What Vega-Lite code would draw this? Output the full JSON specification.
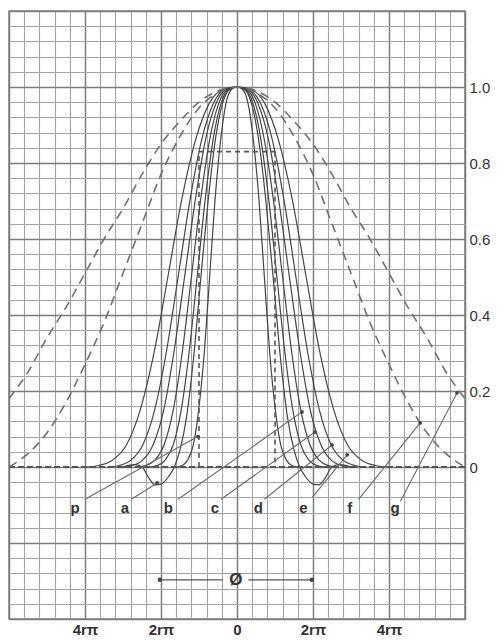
{
  "$schema": "https://vega.github.io/schema/vega-lite/v6.json",
  "width": 456,
  "height": 608,
  "autosize": "none",
  "padding": {"left": 9, "top": 11, "right": 39, "bottom": 22},
  "background": "white",
  "config": {"view": {"stroke": "#808080", "strokeWidth": 1.5}},
  "resolve": {"axis": {"x": "independent", "y": "independent"}},
  "datasets": {
    "solid": [
      {"k":"c1","x":-1.58,"y":0},{"k":"c1","x":-1.44,"y":0.004},{"k":"c1","x":-1.3,"y":0.018},{"k":"c1","x":-1.15,"y":0.058},{"k":"c1","x":-1.01,"y":0.149},{"k":"c1","x":-0.86,"y":0.302},{"k":"c1","x":-0.72,"y":0.5},{"k":"c1","x":-0.58,"y":0.701},{"k":"c1","x":-0.43,"y":0.861},{"k":"c1","x":-0.29,"y":0.957},{"k":"c1","x":-0.14,"y":0.994},{"k":"c1","x":0,"y":1},
      {"k":"c1","x":0.14,"y":0.994},{"k":"c1","x":0.29,"y":0.957},{"k":"c1","x":0.43,"y":0.861},{"k":"c1","x":0.58,"y":0.701},{"k":"c1","x":0.72,"y":0.5},{"k":"c1","x":0.86,"y":0.302},{"k":"c1","x":1.01,"y":0.149},{"k":"c1","x":1.15,"y":0.058},{"k":"c1","x":1.3,"y":0.018},{"k":"c1","x":1.44,"y":0.004},{"k":"c1","x":1.58,"y":0},
      {"k":"c2","x":-3.0,"y":0},{"k":"c2","x":-2.7,"y":0.006},{"k":"c2","x":-2.5,"y":0},{"k":"c2","x":-2.3,"y":-0.032},{"k":"c2","x":-2.15,"y":-0.047},{"k":"c2","x":-2.0,"y":-0.045},{"k":"c2","x":-1.8,"y":-0.025},{"k":"c2","x":-1.65,"y":0},{"k":"c2","x":-1.5,"y":0.045},{"k":"c2","x":-1.33,"y":0.13},{"k":"c2","x":-1.14,"y":0.29},{"k":"c2","x":-0.95,"y":0.5},{"k":"c2","x":-0.76,"y":0.7},{"k":"c2","x":-0.57,"y":0.861},{"k":"c2","x":-0.38,"y":0.957},{"k":"c2","x":-0.19,"y":0.994},{"k":"c2","x":0,"y":1},
      {"k":"c2","x":0.19,"y":0.994},{"k":"c2","x":0.38,"y":0.957},{"k":"c2","x":0.57,"y":0.861},{"k":"c2","x":0.76,"y":0.7},{"k":"c2","x":0.95,"y":0.5},{"k":"c2","x":1.14,"y":0.29},{"k":"c2","x":1.33,"y":0.13},{"k":"c2","x":1.5,"y":0.045},{"k":"c2","x":1.65,"y":0},{"k":"c2","x":1.8,"y":-0.025},{"k":"c2","x":2.0,"y":-0.045},{"k":"c2","x":2.15,"y":-0.047},{"k":"c2","x":2.3,"y":-0.032},{"k":"c2","x":2.5,"y":0},{"k":"c2","x":2.7,"y":0.006},{"k":"c2","x":3.0,"y":0},
      {"k":"c3","x":-2.31,"y":0},{"k":"c3","x":-2.1,"y":0.004},{"k":"c3","x":-1.89,"y":0.018},{"k":"c3","x":-1.68,"y":0.058},{"k":"c3","x":-1.47,"y":0.149},{"k":"c3","x":-1.26,"y":0.302},{"k":"c3","x":-1.05,"y":0.5},{"k":"c3","x":-0.84,"y":0.701},{"k":"c3","x":-0.63,"y":0.861},{"k":"c3","x":-0.42,"y":0.957},{"k":"c3","x":-0.21,"y":0.994},{"k":"c3","x":0,"y":1},
      {"k":"c3","x":0.21,"y":0.994},{"k":"c3","x":0.42,"y":0.957},{"k":"c3","x":0.63,"y":0.861},{"k":"c3","x":0.84,"y":0.701},{"k":"c3","x":1.05,"y":0.5},{"k":"c3","x":1.26,"y":0.302},{"k":"c3","x":1.47,"y":0.149},{"k":"c3","x":1.68,"y":0.058},{"k":"c3","x":1.89,"y":0.018},{"k":"c3","x":2.1,"y":0.004},{"k":"c3","x":2.31,"y":0},
      {"k":"c4","x":-2.64,"y":0},{"k":"c4","x":-2.4,"y":0.004},{"k":"c4","x":-2.16,"y":0.018},{"k":"c4","x":-1.92,"y":0.058},{"k":"c4","x":-1.68,"y":0.149},{"k":"c4","x":-1.44,"y":0.302},{"k":"c4","x":-1.2,"y":0.5},{"k":"c4","x":-0.96,"y":0.701},{"k":"c4","x":-0.72,"y":0.861},{"k":"c4","x":-0.48,"y":0.957},{"k":"c4","x":-0.24,"y":0.994},{"k":"c4","x":0,"y":1},
      {"k":"c4","x":0.24,"y":0.994},{"k":"c4","x":0.48,"y":0.957},{"k":"c4","x":0.72,"y":0.861},{"k":"c4","x":0.96,"y":0.701},{"k":"c4","x":1.2,"y":0.5},{"k":"c4","x":1.44,"y":0.302},{"k":"c4","x":1.68,"y":0.149},{"k":"c4","x":1.92,"y":0.058},{"k":"c4","x":2.16,"y":0.018},{"k":"c4","x":2.4,"y":0.004},{"k":"c4","x":2.64,"y":0},
      {"k":"c5","x":-3.04,"y":0},{"k":"c5","x":-2.76,"y":0.004},{"k":"c5","x":-2.48,"y":0.018},{"k":"c5","x":-2.21,"y":0.058},{"k":"c5","x":-1.93,"y":0.149},{"k":"c5","x":-1.66,"y":0.302},{"k":"c5","x":-1.38,"y":0.5},{"k":"c5","x":-1.1,"y":0.701},{"k":"c5","x":-0.83,"y":0.861},{"k":"c5","x":-0.55,"y":0.957},{"k":"c5","x":-0.28,"y":0.994},{"k":"c5","x":0,"y":1},
      {"k":"c5","x":0.28,"y":0.994},{"k":"c5","x":0.55,"y":0.957},{"k":"c5","x":0.83,"y":0.861},{"k":"c5","x":1.1,"y":0.701},{"k":"c5","x":1.38,"y":0.5},{"k":"c5","x":1.66,"y":0.302},{"k":"c5","x":1.93,"y":0.149},{"k":"c5","x":2.21,"y":0.058},{"k":"c5","x":2.48,"y":0.018},{"k":"c5","x":2.76,"y":0.004},{"k":"c5","x":3.04,"y":0},
      {"k":"c6","x":-3.41,"y":0},{"k":"c6","x":-3.1,"y":0.004},{"k":"c6","x":-2.79,"y":0.018},{"k":"c6","x":-2.48,"y":0.058},{"k":"c6","x":-2.17,"y":0.149},{"k":"c6","x":-1.86,"y":0.302},{"k":"c6","x":-1.55,"y":0.5},{"k":"c6","x":-1.24,"y":0.701},{"k":"c6","x":-0.93,"y":0.861},{"k":"c6","x":-0.62,"y":0.957},{"k":"c6","x":-0.31,"y":0.994},{"k":"c6","x":0,"y":1},
      {"k":"c6","x":0.31,"y":0.994},{"k":"c6","x":0.62,"y":0.957},{"k":"c6","x":0.93,"y":0.861},{"k":"c6","x":1.24,"y":0.701},{"k":"c6","x":1.55,"y":0.5},{"k":"c6","x":1.86,"y":0.302},{"k":"c6","x":2.17,"y":0.149},{"k":"c6","x":2.48,"y":0.058},{"k":"c6","x":2.79,"y":0.018},{"k":"c6","x":3.1,"y":0.004},{"k":"c6","x":3.41,"y":0},
      {"k":"c7","x":-4.0,"y":0},{"k":"c7","x":-3.64,"y":0.004},{"k":"c7","x":-3.28,"y":0.018},{"k":"c7","x":-2.91,"y":0.058},{"k":"c7","x":-2.55,"y":0.149},{"k":"c7","x":-2.18,"y":0.302},{"k":"c7","x":-1.82,"y":0.5},{"k":"c7","x":-1.46,"y":0.701},{"k":"c7","x":-1.09,"y":0.861},{"k":"c7","x":-0.73,"y":0.957},{"k":"c7","x":-0.36,"y":0.994},{"k":"c7","x":0,"y":1},
      {"k":"c7","x":0.36,"y":0.994},{"k":"c7","x":0.73,"y":0.957},{"k":"c7","x":1.09,"y":0.861},{"k":"c7","x":1.46,"y":0.701},{"k":"c7","x":1.82,"y":0.5},{"k":"c7","x":2.18,"y":0.302},{"k":"c7","x":2.55,"y":0.149},{"k":"c7","x":2.91,"y":0.058},{"k":"c7","x":3.28,"y":0.018},{"k":"c7","x":3.64,"y":0.004},{"k":"c7","x":4.0,"y":0}
    ],
    "dashed": [
      {"k":"f","x":-6,"y":0},{"k":"f","x":-5.5,"y":0.035},{"k":"f","x":-5,"y":0.09},{"k":"f","x":-4.5,"y":0.17},{"k":"f","x":-4,"y":0.27},{"k":"f","x":-3.5,"y":0.38},{"k":"f","x":-3,"y":0.51},{"k":"f","x":-2.5,"y":0.64},{"k":"f","x":-2,"y":0.77},{"k":"f","x":-1.5,"y":0.87},{"k":"f","x":-1,"y":0.945},{"k":"f","x":-0.5,"y":0.985},{"k":"f","x":0,"y":1},
      {"k":"f","x":0.5,"y":0.985},{"k":"f","x":1,"y":0.945},{"k":"f","x":1.5,"y":0.87},{"k":"f","x":2,"y":0.77},{"k":"f","x":2.5,"y":0.64},{"k":"f","x":3,"y":0.51},{"k":"f","x":3.5,"y":0.38},{"k":"f","x":4,"y":0.27},{"k":"f","x":4.5,"y":0.17},{"k":"f","x":5,"y":0.09},{"k":"f","x":5.5,"y":0.035},{"k":"f","x":6,"y":0},
      {"k":"g","x":-6,"y":0.18},{"k":"g","x":-5.5,"y":0.25},{"k":"g","x":-5,"y":0.34},{"k":"g","x":-4.5,"y":0.42},{"k":"g","x":-4,"y":0.51},{"k":"g","x":-3.5,"y":0.6},{"k":"g","x":-3,"y":0.68},{"k":"g","x":-2.5,"y":0.77},{"k":"g","x":-2,"y":0.85},{"k":"g","x":-1.5,"y":0.91},{"k":"g","x":-1,"y":0.96},{"k":"g","x":-0.5,"y":0.99},{"k":"g","x":0,"y":1},
      {"k":"g","x":0.5,"y":0.99},{"k":"g","x":1,"y":0.96},{"k":"g","x":1.5,"y":0.91},{"k":"g","x":2,"y":0.85},{"k":"g","x":2.5,"y":0.77},{"k":"g","x":3,"y":0.68},{"k":"g","x":3.5,"y":0.6},{"k":"g","x":4,"y":0.51},{"k":"g","x":4.5,"y":0.42},{"k":"g","x":5,"y":0.34},{"k":"g","x":5.5,"y":0.25},{"k":"g","x":6,"y":0.18}
    ],
    "pulse": [
      {"x":-1,"y":0,"x2":-1,"y2":0.83},
      {"x":-1,"y":0.83,"x2":1,"y2":0.83},
      {"x":1,"y":0.83,"x2":1,"y2":0}
    ],
    "leaders": [
      {"t":"p","x":-4.0,"y":-0.085,"x2":-1.03,"y2":0.08},
      {"t":"a","x":-2.78,"y":-0.085,"x2":-2.1,"y2":-0.042},
      {"t":"b","x":-1.55,"y":-0.085,"x2":1.71,"y2":0.145},
      {"t":"c","x":-0.42,"y":-0.085,"x2":2.05,"y2":0.092},
      {"t":"d","x":0.72,"y":-0.085,"x2":2.5,"y2":0.058},
      {"t":"e","x":1.98,"y":-0.08,"x2":2.9,"y2":0.032},
      {"t":"f","x":3.2,"y":-0.085,"x2":4.82,"y2":0.116},
      {"t":"g","x":4.3,"y":-0.09,"x2":5.79,"y2":0.195}
    ],
    "labels": [
      {"t":"p","x":-4.26,"y":-0.108},
      {"t":"a","x":-2.95,"y":-0.108},
      {"t":"b","x":-1.81,"y":-0.108},
      {"t":"c","x":-0.58,"y":-0.108},
      {"t":"d","x":0.56,"y":-0.108},
      {"t":"e","x":1.75,"y":-0.108},
      {"t":"f","x":2.97,"y":-0.108},
      {"t":"g","x":4.16,"y":-0.108}
    ],
    "phi": [
      {"x":-2.03,"y":-0.297,"x2":-0.37,"y2":-0.297},
      {"x":0.3,"y":-0.297,"x2":1.97,"y2":-0.297}
    ],
    "phiends": [
      {"x":-2.03,"y":-0.297},
      {"x":1.97,"y":-0.297}
    ],
    "philabel": [
      {"t":"Ø","x":-0.03,"y":-0.297}
    ],
    "zero": [
      {"y":0}
    ]
  },
  "layer": [
    {
      "data": {"name": "solid"},
      "mark": {"type": "line", "interpolate": "monotone", "stroke": "#454545", "strokeWidth": 1.2},
      "encoding": {
        "x": {
          "field": "x", "type": "quantitative",
          "scale": {"domain": [-6, 6], "nice": false, "zero": false},
          "axis": {
            "orient": "bottom", "title": null, "domain": false, "ticks": false,
            "values": [-6,-5.6,-5.2,-4.8,-4.4,-4,-3.6,-3.2,-2.8,-2.4,-2,-1.6,-1.2,-0.8,-0.4,0,0.4,0.8,1.2,1.6,2,2.4,2.8,3.2,3.6,4,4.4,4.8,5.2,5.6,6],
            "grid": true,
            "gridColor": {"condition": {"test": "abs(datum.value/2 - round(datum.value/2)) < 0.001", "value": "#7c7c7c"}, "value": "#a4a4a4"},
            "gridWidth": {"condition": {"test": "abs(datum.value/2 - round(datum.value/2)) < 0.001", "value": 1.5}, "value": 1.1},
            "labelExpr": "datum.value == 0 ? '0' : (abs(datum.value) == 4 ? '4rπ' : (abs(datum.value) == 2 ? '2rπ' : ''))",
            "labelOverlap": false, "labelFlush": false, "labelBound": false,
            "labelFont": "Liberation Sans", "labelFontSize": 15, "labelFontWeight": "bold",
            "labelColor": "#333", "labelPadding": 3
          }
        },
        "y": {
          "field": "y", "type": "quantitative",
          "scale": {"domain": [-0.4, 1.2], "nice": false, "zero": false},
          "axis": {
            "orient": "right", "title": null, "domain": false, "ticks": false,
            "values": [-0.4,-0.36,-0.32,-0.28,-0.24,-0.2,-0.16,-0.12,-0.08,-0.04,0,0.04,0.08,0.12,0.16,0.2,0.24,0.28,0.32,0.36,0.4,0.44,0.48,0.52,0.56,0.6,0.64,0.68,0.72,0.76,0.8,0.84,0.88,0.92,0.96,1,1.04,1.08,1.12,1.16,1.2],
            "grid": true,
            "gridColor": {"condition": {"test": "abs(datum.value*5 - round(datum.value*5)) < 0.001", "value": "#7c7c7c"}, "value": "#a4a4a4"},
            "gridWidth": {"condition": {"test": "abs(datum.value*5 - round(datum.value*5)) < 0.001", "value": 1.5}, "value": 1.1},
            "labelExpr": "indexof([0.2,0.4,0.6,0.8,1], datum.value) >= 0 ? format(datum.value, '.1f') : (datum.value == 0 ? '0' : '')",
            "labelOverlap": false, "labelFlush": false, "labelBound": false,
            "labelFont": "Liberation Sans", "labelFontSize": 15,
            "labelColor": "#333", "labelPadding": 4
          }
        },
        "detail": {"field": "k"}
      }
    },
    {
      "data": {"name": "zero"},
      "mark": {"type": "rule", "stroke": "#555", "strokeWidth": 2, "strokeDash": [6, 3]},
      "encoding": {"y": {"field": "y", "type": "quantitative", "axis": null}}
    },
    {
      "data": {"name": "dashed"},
      "mark": {"type": "line", "interpolate": "monotone", "stroke": "#707070", "strokeWidth": 1.6, "strokeDash": [9, 6]},
      "encoding": {
        "x": {"field": "x", "type": "quantitative", "axis": null},
        "y": {"field": "y", "type": "quantitative", "axis": null},
        "detail": {"field": "k"}
      }
    },
    {
      "data": {"name": "pulse"},
      "mark": {"type": "rule", "stroke": "#555", "strokeWidth": 1.6, "strokeDash": [5, 4]},
      "encoding": {
        "x": {"field": "x", "type": "quantitative", "axis": null},
        "y": {"field": "y", "type": "quantitative", "axis": null},
        "x2": {"field": "x2"},
        "y2": {"field": "y2"}
      }
    },
    {
      "data": {"name": "leaders"},
      "mark": {"type": "rule", "stroke": "#6a6a6a", "strokeWidth": 1.1},
      "encoding": {
        "x": {"field": "x", "type": "quantitative", "axis": null},
        "y": {"field": "y", "type": "quantitative", "axis": null},
        "x2": {"field": "x2"},
        "y2": {"field": "y2"}
      }
    },
    {
      "data": {"name": "leaders"},
      "mark": {"type": "point", "filled": true, "size": 14, "color": "#444", "opacity": 1},
      "encoding": {
        "x": {"field": "x2", "type": "quantitative", "axis": null},
        "y": {"field": "y2", "type": "quantitative", "axis": null}
      }
    },
    {
      "data": {"name": "labels"},
      "mark": {"type": "text", "font": "Liberation Sans", "fontSize": 15, "fontWeight": "bold", "color": "#333", "baseline": "middle", "align": "center"},
      "encoding": {
        "x": {"field": "x", "type": "quantitative", "axis": null},
        "y": {"field": "y", "type": "quantitative", "axis": null},
        "text": {"field": "t"}
      }
    },
    {
      "data": {"name": "phi"},
      "mark": {"type": "rule", "stroke": "#555", "strokeWidth": 1.2},
      "encoding": {
        "x": {"field": "x", "type": "quantitative", "axis": null},
        "y": {"field": "y", "type": "quantitative", "axis": null},
        "x2": {"field": "x2"},
        "y2": {"field": "y2"}
      }
    },
    {
      "data": {"name": "phiends"},
      "mark": {"type": "point", "filled": true, "size": 20, "color": "#444", "opacity": 1},
      "encoding": {
        "x": {"field": "x", "type": "quantitative", "axis": null},
        "y": {"field": "y", "type": "quantitative", "axis": null}
      }
    },
    {
      "data": {"name": "philabel"},
      "mark": {"type": "text", "font": "Liberation Sans", "fontSize": 17, "fontWeight": "bold", "color": "#333", "baseline": "middle", "align": "center"},
      "encoding": {
        "x": {"field": "x", "type": "quantitative", "axis": null},
        "y": {"field": "y", "type": "quantitative", "axis": null},
        "text": {"field": "t"}
      }
    }
  ]
}
